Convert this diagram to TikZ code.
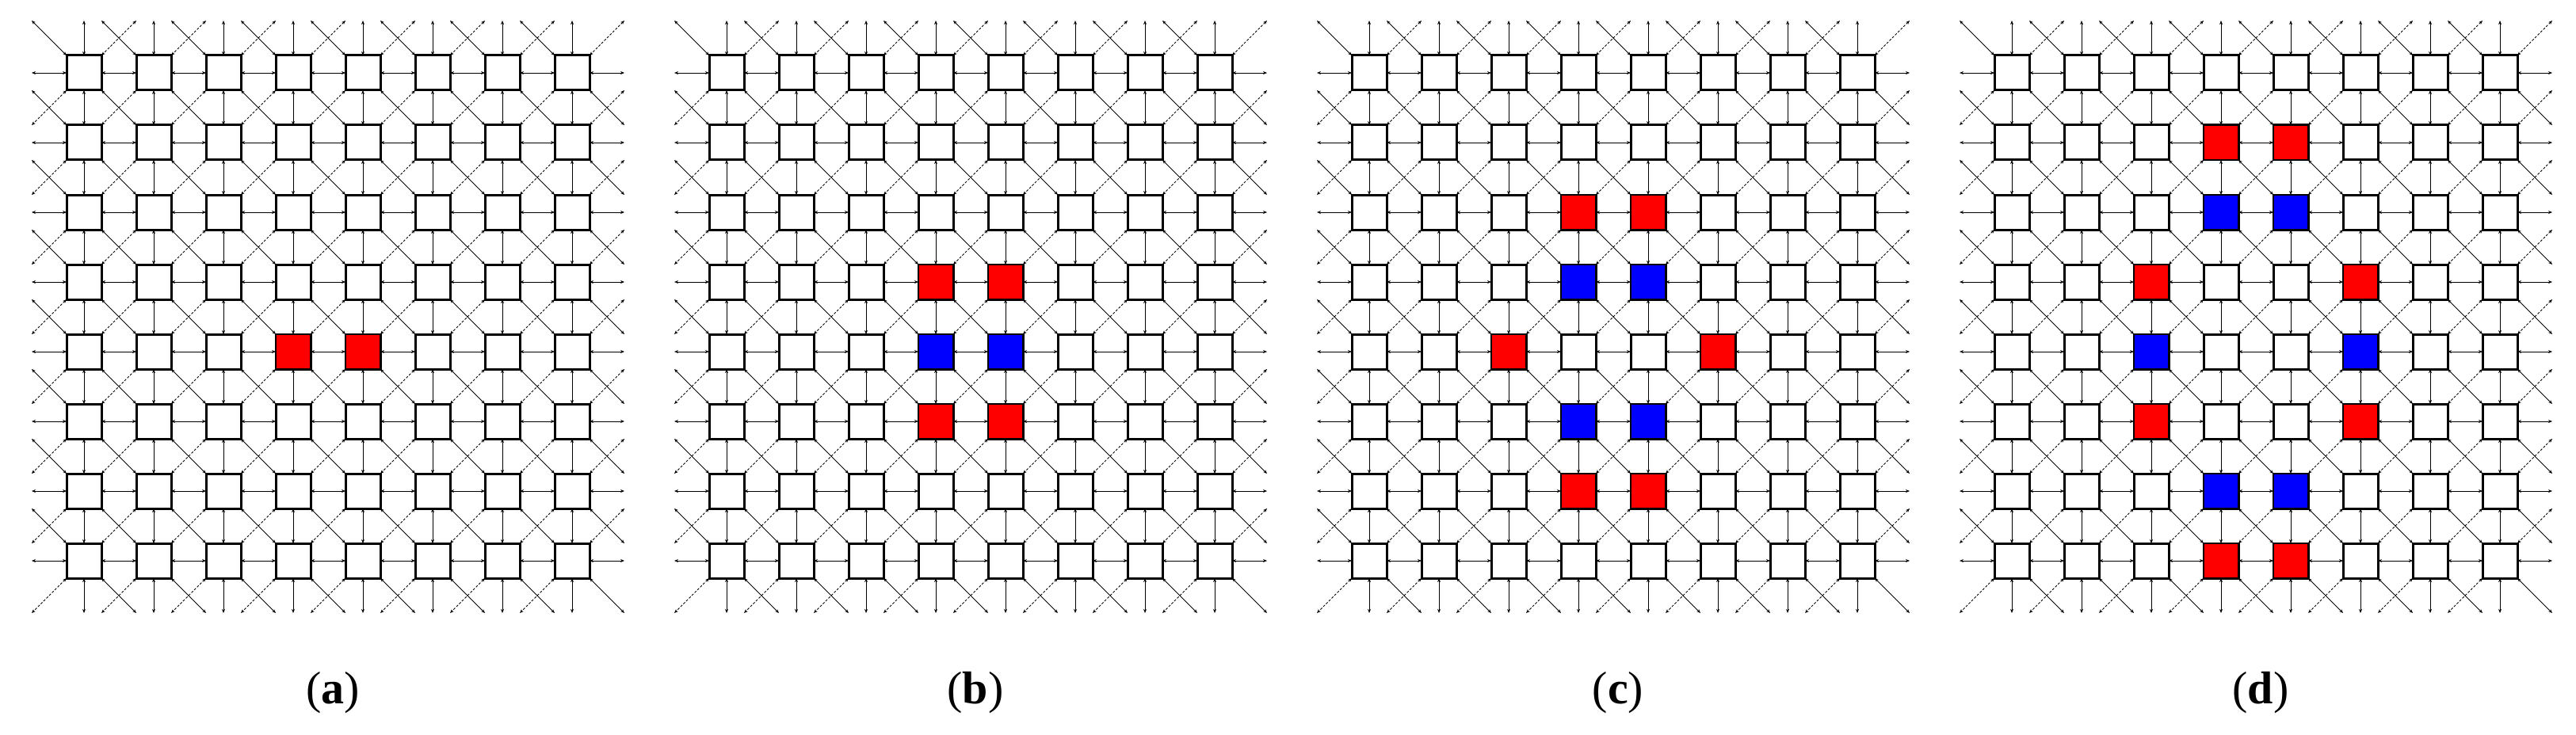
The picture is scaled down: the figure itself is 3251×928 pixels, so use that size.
\documentclass[tikz,border=0pt]{standalone}
\usepackage{fontspec}
\setmainfont{Liberation Serif}
\usetikzlibrary{arrows.meta}
\tikzset{
 ghost/.style={rectangle,minimum size=44pt,inner sep=0pt,outer sep=0pt},
 sq/.style={rectangle,minimum size=44pt,inner sep=0pt,outer sep=0pt,draw=black,line width=3pt,fill=white},
 csq/.style={rectangle,minimum size=44pt,inner sep=0pt,outer sep=0pt,draw=black,line width=1.5pt},
 conn/.style={line width=0.9pt,{Stealth[length=5pt,width=4pt]}-{Stealth[length=5pt,width=4pt]}},
 dconn/.style={conn,dash pattern=on 3pt off 2pt},
 lab/.style={font=\fontsize{58}{66}\selectfont}
}
\begin{document}
\begin{tikzpicture}[x=1pt,y=-1pt]
\useasboundingbox (0,0) rectangle (3251,928);
\foreach \p in {0,...,3}{
 \foreach \i in {0,...,9}{\foreach \j in {0,...,9}{
  \pgfmathsetmacro\x{106+88*(\i-1)+811*\p}
  \pgfmathsetmacro\y{92+88*(\j-1)}
  \node[ghost] (p\p-\i-\j) at (\x,\y) {};
 }}
 \foreach \i in {0,...,8}{\foreach \j in {1,...,8}{
  \pgfmathtruncatemacro\ii{\i+1}
  \draw[conn] (p\p-\i-\j.east) -- (p\p-\ii-\j.west);
  \draw[conn] (p\p-\j-\i.south) -- (p\p-\j-\ii.north);
 }}
 \foreach \i in {0,...,8}{\foreach \j in {0,...,8}{
  \pgfmathtruncatemacro\ii{\i+1}
  \pgfmathtruncatemacro\jj{\j+1}
  \pgfmathtruncatemacro\ra{(\i>0)*(\i<9)*(\j>0)*(\j<9)+(\ii>0)*(\ii<9)*(\jj>0)*(\jj<9)}
  \pgfmathtruncatemacro\rb{(\ii>0)*(\ii<9)*(\j>0)*(\j<9)+(\i>0)*(\i<9)*(\jj>0)*(\jj<9)}
  \ifnum\ra>0 \draw[conn] (p\p-\i-\j.south east) -- (p\p-\ii-\jj.north west);\fi
  \ifnum\rb>0 \draw[dconn] (p\p-\ii-\j.south west) -- (p\p-\i-\jj.north east);\fi
 }}
 \foreach \i in {1,...,8}{\foreach \j in {1,...,8}{
  \node[sq] at (p\p-\i-\j) {};
 }}
}
% coloured squares: panel/col/row/colour (indices 1..8)
\foreach \p/\i/\j/\c in {
 0/4/5/red,0/5/5/red,
 1/4/4/red,1/5/4/red,1/4/5/blue,1/5/5/blue,1/4/6/red,1/5/6/red,
 2/4/3/red,2/5/3/red,2/4/4/blue,2/5/4/blue,2/3/5/red,2/6/5/red,2/4/6/blue,2/5/6/blue,2/4/7/red,2/5/7/red,
 3/4/2/red,3/5/2/red,3/4/3/blue,3/5/3/blue,3/3/4/red,3/6/4/red,3/3/5/blue,3/6/5/blue,3/3/6/red,3/6/6/red,3/4/7/blue,3/5/7/blue,3/4/8/red,3/5/8/red}{
 \node[csq,fill=\c] at (p\p-\i-\j) {};
}
\node[lab] (la) at (420,875) {(\textbf{a})};
\node[lab] (lb) at (1231,875) {(\textbf{b})};
\node[lab] (lc) at (2042,875) {(\textbf{c})};
\node[lab] (ld) at (2853,875) {(\textbf{d})};
\end{tikzpicture}
\end{document}
